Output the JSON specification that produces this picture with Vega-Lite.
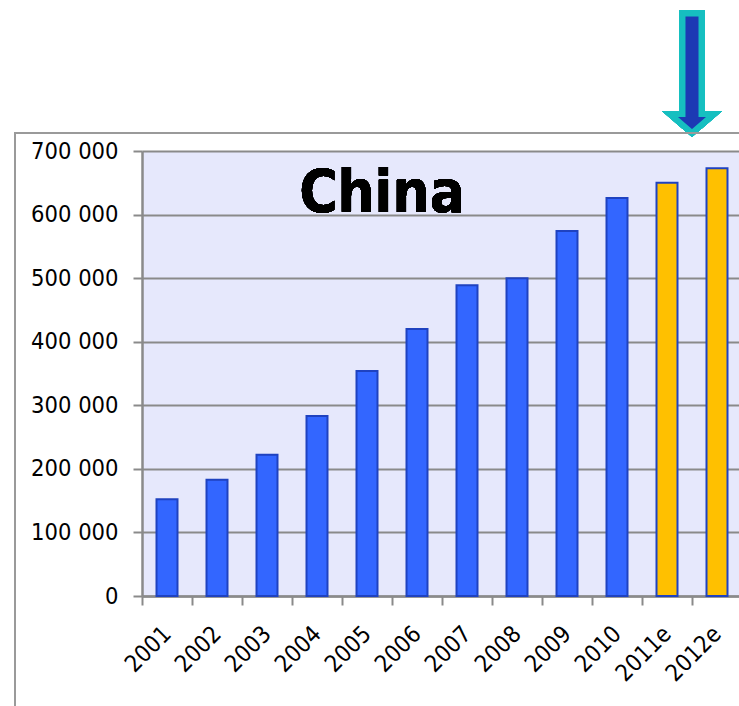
{
  "$schema": "https://vega.github.io/schema/vega-lite/v6.json",
  "autosize": {"type": "none"},
  "width": 597,
  "height": 445,
  "padding": {"left": 142, "top": 151, "right": 0, "bottom": 110},
  "background": "white",
  "config": {
    "locale": {"number": {"decimal": ",", "thousands": " ", "grouping": [3], "currency": ["", ""]}},
    "view": {"fill": "#e6e8fc", "stroke": null},
    "font": "DejaVu Sans Condensed"
  },
  "data": {
    "values": [
      {"year": "2001", "value": 152000, "type": "actual"},
      {"year": "2002", "value": 183000, "type": "actual"},
      {"year": "2003", "value": 222000, "type": "actual"},
      {"year": "2004", "value": 283000, "type": "actual"},
      {"year": "2005", "value": 354000, "type": "actual"},
      {"year": "2006", "value": 420000, "type": "actual"},
      {"year": "2007", "value": 489000, "type": "actual"},
      {"year": "2008", "value": 500000, "type": "actual"},
      {"year": "2009", "value": 574000, "type": "actual"},
      {"year": "2010", "value": 626000, "type": "actual"},
      {"year": "2011e", "value": 650000, "type": "estimate"},
      {"year": "2012e", "value": 673000, "type": "estimate"}
    ]
  },
  "layer": [
    {
      "mark": {"type": "bar", "width": {"band": 0.42}, "stroke": "#1f42c0", "strokeWidth": 2},
      "encoding": {
        "x": {
          "field": "year", "type": "nominal", "sort": null,
          "scale": {"range": [0, 600], "paddingInner": 0, "paddingOuter": 0},
          "axis": {
            "title": null, "tickBand": "extent", "labelAngle": -45, "labelAlign": "right",
            "labelBaseline": "middle", "labelFontSize": 23.5, "labelColor": "#000",
            "labelPadding": 25, "tickSize": 9, "tickColor": "#8a8a8a", "tickWidth": 2,
            "domainColor": "#8a8a8a", "domainWidth": 2.5, "grid": false
          }
        },
        "y": {
          "field": "value", "type": "quantitative",
          "scale": {"domain": [0, 700000], "nice": false},
          "axis": {
            "title": null, "values": [0, 100000, 200000, 300000, 400000, 500000, 600000, 700000],
            "format": ",d", "labelFontSize": 23.5, "labelColor": "#000", "labelPadding": 15,
            "tickSize": 9, "tickColor": "#8a8a8a", "tickWidth": 2,
            "domainColor": "#8a8a8a", "domainWidth": 2.5,
            "grid": true, "gridColor": "#8a8a8a", "gridWidth": 2
          }
        },
        "fill": {
          "field": "type", "type": "nominal",
          "scale": {"domain": ["actual", "estimate"], "range": ["#3366ff", "#ffc000"]},
          "legend": null
        }
      }
    },
    {
      "mark": {"type": "text", "text": "China", "font": "DejaVu Sans Condensed", "fontWeight": "bold", "fontSize": 58, "color": "#000", "baseline": "alphabetic", "align": "center"},
      "encoding": {
        "x": {"datum": "2005", "bandPosition": 0.8},
        "y": {"datum": 604000}
      }
    },
    {
      "mark": {
        "type": "point", "filled": true, "size": 15876,
        "shape": "M-0.151,-0.96 L0.151,-0.96 L0.151,0.635 L0.35,0.635 L0,0.937 L-0.35,0.635 L-0.151,0.635 Z",
        "fill": "#1c3ab4", "stroke": "#16bfc0", "strokeWidth": 6, "opacity": 1, "strokeJoin": "miter"
      },
      "encoding": {
        "x": {"datum": "2012e", "bandPosition": 0},
        "y": {"datum": 821000}
      }
    },
    {
      "mark": {"type": "rect", "fill": null, "stroke": "#9a9a9a", "strokeWidth": 2},
      "encoding": {
        "x": {"value": -127},
        "x2": {"value": 700},
        "y": {"value": -18},
        "y2": {"value": 600}
      }
    }
  ]
}
